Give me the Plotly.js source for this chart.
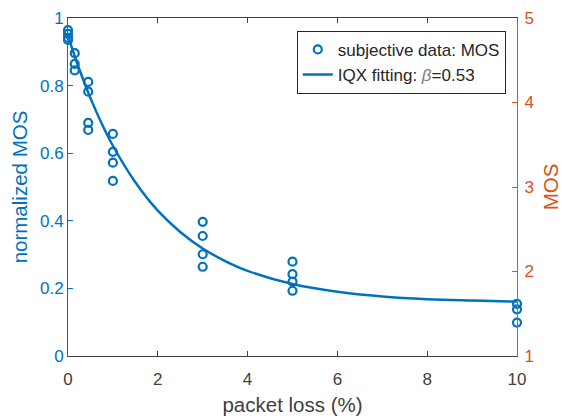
<!DOCTYPE html>
<html><head><meta charset="utf-8">
<script src="https://cdn.plot.ly/plotly-3.0.1.min.js"></script>
<style>html,body{margin:0;padding:0;background:#fff}#chart{width:562px;height:419px}</style>
</head><body><div id="chart"></div>
<script>
// subjective data (normalized MOS)
const lossPts = [0,0,0,0, 0.15,0.15,0.15, 0.45,0.45,0.45,0.45, 1,1,1,1, 3,3,3,3, 5,5,5,5, 10,10,10];
const mosPts  = [0.964,0.953,0.941,0.935, 0.896,0.864,0.845, 0.811,0.782,0.690,0.669, 0.657,0.604,0.572,0.518, 0.397,0.355,0.301,0.264, 0.279,0.242,0.220,0.193, 0.154,0.138,0.099];
// IQX fitting curve
const fitX = [0,0.25,0.5,0.75,1,1.5,2,2.5,3,3.5,4,5,6,7,8,9,10];
const fitY = [0.947,0.849,0.763,0.688,0.622,0.514,0.430,0.367,0.318,0.281,0.252,0.213,0.190,0.176,0.168,0.164,0.161];
const xTicks = [0,2,4,6,8,10];
const yTicks = [0,0.2,0.4,0.6,0.8,1];
const y2Ticks = [1,2,3,4,5];

const blue = '#0072BD', orange = '#D95319', dark = '#404040';
const fam = 'Liberation Sans, Arial, sans-serif';
const tickSize = 17, titleSize = 20.5;

const data = [
  {x: lossPts, y: mosPts, type:'scatter', mode:'markers', name:'subjective data: MOS', cliponaxis:false,
   marker:{symbol:'circle-open', size:8, color:blue, line:{width:2.2, color:blue}}},
  {x: fitX, y: fitY, type:'scatter', mode:'lines', name:'IQX fitting: <i><span style="color:#808080">β</span></i>=0.53',
   line:{color:blue, width:2.5, shape:'spline'}},
  {x:[null], y:[null], yaxis:'y2', showlegend:false, hoverinfo:'skip'}
];

const layout = {
  width:562, height:419,
  margin:{l:68, r:45, t:18, b:63},
  paper_bgcolor:'#fff', plot_bgcolor:'#fff',
  font:{family:fam, size:tickSize, color:dark},
  showlegend:true,
  legend:{x:0.975, y:0.962, xanchor:'right', yanchor:'top', bgcolor:'#fff',
          bordercolor:'#262626', borderwidth:1, font:{family:fam, size:17, color:'#262626'},
          tracegroupgap:0},
  xaxis:{range:[0,10], tickvals:xTicks, ticktext:xTicks.map(String), ticks:'inside', ticklen:5,
         tickcolor:dark, showline:true, linecolor:dark, linewidth:1, mirror:'ticks', showgrid:false, zeroline:false,
         automargin:false, ticklabelstandoff:8, tickfont:{family:fam, size:tickSize, color:dark},
         title:{text:'packet loss (%)', font:{family:fam, size:titleSize, color:dark}, standoff:9}},
  yaxis:{range:[0,1], tickvals:yTicks, ticktext:yTicks.map(v=>String(v)), ticks:'inside', ticklen:5,
         tickcolor:blue, showline:true, linecolor:blue, linewidth:1, showgrid:false, zeroline:false,
         automargin:false, tickfont:{family:fam, size:tickSize, color:blue},
         title:{text:'normalized MOS', font:{family:fam, size:titleSize, color:blue}, standoff:6}},
  yaxis2:{range:[1,5], tickvals:y2Ticks, ticktext:y2Ticks.map(String), overlaying:'y', side:'right',
          ticks:'inside', ticklen:5, tickcolor:orange, showline:true, linecolor:orange, linewidth:1,
          showgrid:false, zeroline:false, automargin:false, ticklabelstandoff:3,
          tickfont:{family:fam, size:tickSize, color:orange},
          title:{text:'MOS', font:{family:fam, size:titleSize, color:orange}, standoff:12}}
};
Plotly.newPlot('chart', data, layout, {displayModeBar:false, staticPlot:true});
</script></body></html>
